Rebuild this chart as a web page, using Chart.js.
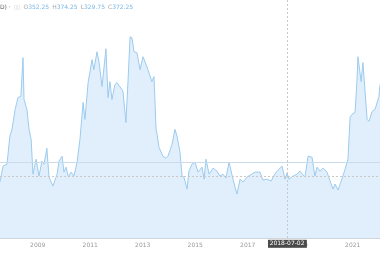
<!DOCTYPE html>
<html>
<head>
<meta charset="utf-8">
<script src="https://cdn.jsdelivr.net/npm/chart.js@4/dist/chart.umd.min.js"></script>
<style>
  html, body { margin: 0; padding: 0; background: #fff; }
  #wrap { position: relative; width: 380px; height: 260px; }
  #legend {
    position: absolute; left: 0; top: 3px;
    font: 6px "DejaVu Sans", sans-serif; color: #666; white-space: nowrap;
  }
  #legend .k { color: #aaa; margin-left: 3px; }
  #legend .v { color: #7ab8e6; }
  #legend .box { color: #d0d0d0; margin-left: 3px; }
</style>
</head>
<body>
<div id="wrap">
  <canvas id="chart" width="380" height="260"></canvas>
  <div id="legend">D) ·<span class="box">▯▯</span><span class="k">O</span><span class="v">352.25</span><span class="k">H</span><span class="v">374.25</span><span class="k">L</span><span class="v">329.75</span><span class="k">C</span><span class="v">372.25</span></div>
</div>
<script>
// time in decimal years
const dates = [
  2007.56, 2007.68, 2007.83, 2007.94, 2008.02, 2008.14, 2008.25, 2008.36, 2008.44, 2008.48,
  2008.59, 2008.67, 2008.75, 2008.82, 2008.94, 2009.05, 2009.16, 2009.24, 2009.35, 2009.43,
  2009.58, 2009.74, 2009.81, 2009.93, 2010.00, 2010.08, 2010.17, 2010.27, 2010.38, 2010.50,
  2010.61, 2010.73, 2010.80, 2010.92, 2011.07, 2011.14, 2011.26, 2011.34, 2011.45, 2011.60,
  2011.68, 2011.75, 2011.83, 2011.94, 2012.02, 2012.10, 2012.21, 2012.25, 2012.36, 2012.44,
  2012.52, 2012.59, 2012.67, 2012.78, 2012.90, 2013.01, 2013.13, 2013.20, 2013.35, 2013.43,
  2013.51, 2013.55, 2013.62, 2013.77, 2013.89, 2013.96, 2014.12, 2014.23, 2014.31, 2014.42,
  2014.50, 2014.57, 2014.69, 2014.76, 2014.88, 2014.99, 2015.11, 2015.26, 2015.34, 2015.41,
  2015.53, 2015.68, 2015.83, 2015.94, 2016.06, 2016.17, 2016.29, 2016.44, 2016.59, 2016.71,
  2016.82, 2016.97, 2017.09, 2017.28, 2017.47, 2017.58, 2017.74, 2017.89, 2018.08, 2018.31,
  2018.42, 2018.50, 2018.57, 2018.73, 2018.88, 2018.99, 2019.18, 2019.30, 2019.45, 2019.56,
  2019.64, 2019.75, 2019.87, 2020.02, 2020.14, 2020.25, 2020.33, 2020.44, 2020.59, 2020.71,
  2020.82, 2020.90, 2020.97, 2021.09, 2021.16, 2021.20, 2021.32, 2021.39, 2021.55, 2021.62,
  2021.74, 2021.85, 2022.00, 2022.04
];
const prices = [
  257, 273, 275, 303, 310, 330, 342, 343, 382, 340,
  330, 310, 300, 265, 280, 263, 278, 275, 291, 262,
  253, 265, 278, 283, 267, 272, 262, 267, 263, 277,
  300, 337, 320, 357, 380, 370, 388, 377, 353, 391,
  342, 358, 340, 355, 357, 354, 350, 348, 317, 358,
  403, 402, 388, 387, 370, 383, 375, 370, 358, 363,
  310, 305, 292, 283, 281, 283, 295, 310, 303, 287,
  263, 262, 250, 268, 275, 277, 267, 272, 260, 280,
  265, 271, 268, 263, 265, 261, 277, 260, 245, 260,
  257, 262, 264, 267, 267, 259, 260, 258, 267, 273,
  260, 266, 260, 263, 265, 268, 262, 283, 282, 263,
  272, 268, 271, 267, 258, 250, 255, 249, 260, 270,
  280, 322, 325, 327, 357, 383, 358, 377, 320, 318,
  328, 330, 343, 355
];
const tickYears = [2009, 2011, 2013, 2015, 2017, 2019, 2021];
const priceLine = 277;
const crossX = 2018.50;
const crossY = 263;
const crossLabel = "2018-07-02";

const overlay = {
  id: "overlay",
  afterDatasetsDraw(chart) {
    const { ctx, chartArea, scales } = chart;
    const px = scales.x.getPixelForValue(crossX);
    const py = scales.y.getPixelForValue(crossY);
    const pl = scales.y.getPixelForValue(priceLine);
    ctx.save();
    ctx.lineWidth = 1;
    ctx.strokeStyle = "#cadcea";
    ctx.beginPath();
    ctx.moveTo(chartArea.left, Math.round(pl) + 0.5);
    ctx.lineTo(chartArea.right, Math.round(pl) + 0.5);
    ctx.stroke();
    ctx.strokeStyle = "#c8c8c8";
    ctx.setLineDash([2, 2]);
    ctx.beginPath();
    ctx.moveTo(chartArea.left, Math.round(py) + 0.5);
    ctx.lineTo(chartArea.right, Math.round(py) + 0.5);
    ctx.moveTo(Math.round(px) + 0.5, 0);
    ctx.lineTo(Math.round(px) + 0.5, chartArea.bottom);
    ctx.stroke();
    ctx.setLineDash([]);
    ctx.font = "6px 'DejaVu Sans'";
    const w = ctx.measureText(crossLabel).width + 4;
    ctx.fillStyle = "#4a4a4a";
    ctx.fillRect(Math.round(px - w / 2), chartArea.bottom + 1, w, 8);
    ctx.fillStyle = "#fff";
    ctx.textAlign = "center";
    ctx.textBaseline = "middle";
    ctx.fillText(crossLabel, px, chartArea.bottom + 5);
    ctx.restore();
  }
};

new Chart(document.getElementById("chart"), {
  type: "line",
  data: {
    labels: dates,
    datasets: [{
      data: prices,
      borderColor: "#9ccbee",
      borderWidth: 1,
      backgroundColor: "rgba(130,190,238,0.25)",
      fill: "start",
      pointRadius: 0,
      tension: 0
    }]
  },
  options: {
    responsive: false,
    animation: false,
    layout: { padding: { left: 0, right: 0, top: 0, bottom: 8 } },
    plugins: { legend: { display: false }, tooltip: { enabled: false } },
    scales: {
      x: {
        type: "linear",
        min: 2007.564,
        max: 2022.04,
        afterBuildTicks: s => { s.ticks = tickYears.map(v => ({ value: v })); },
        grid: { display: false, drawTicks: false },
        border: { color: "#d8d8d8" },
        ticks: {
          color: "#999",
          font: { size: 6, family: "DejaVu Sans" },
          padding: 3,
          maxRotation: 0,
          autoSkip: false,
          callback: v => String(v)
        }
      },
      y: {
        display: false,
        min: 200,
        max: 440
      }
    }
  },
  plugins: [overlay]
});
</script>
</body>
</html>
